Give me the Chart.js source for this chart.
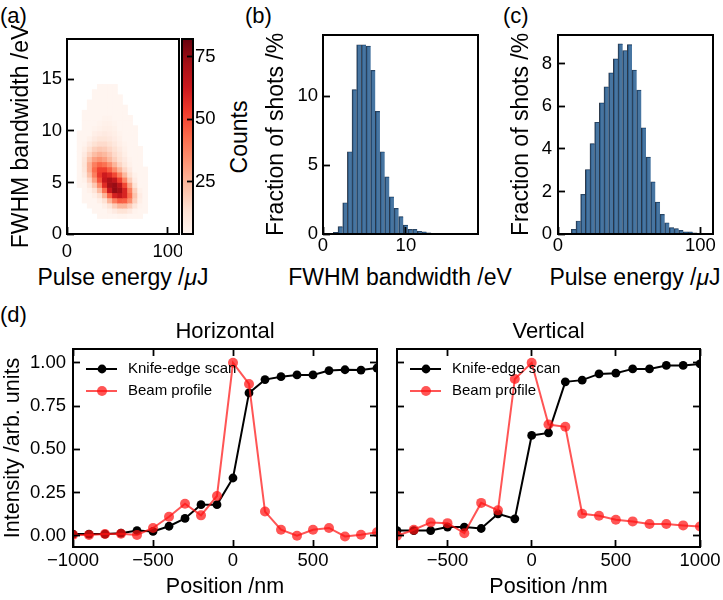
<!DOCTYPE html>
<html>
<head>
<meta charset="utf-8">
<script src="https://cdn.jsdelivr.net/npm/chart.js@4.4.1/dist/chart.umd.min.js"></script>
<style>
  html, body { margin: 0; padding: 0; background: #fff; }
  body { width: 723px; height: 600px; position: relative; overflow: hidden; font-family: "Liberation Sans", Arial, sans-serif; color: #000; }
  .box { position: absolute; }
  .tag { position: absolute; font-size: 22px; line-height: 1; }
  .rot { position: absolute; font-size: 23px; line-height: 1; white-space: nowrap; transform: translate(-50%, -50%) rotate(-90deg); }
  .xt { position: absolute; font-size: 23px; line-height: 1; white-space: nowrap; transform: translate(-50%, -50%); }
</style>
</head>
<body>
<div class="tag" style="left:0;top:5px">(a)</div>
<div class="tag" style="left:245px;top:5px">(b)</div>
<div class="tag" style="left:503px;top:5px">(c)</div>
<div class="tag" style="left:0;top:304px">(d)</div>
<div class="rot" style="left:239px;top:137px">Counts</div>
<div class="xt" style="left:123px;top:277px">Pulse energy /<i>μ</i>J</div>
<div class="xt" style="left:400px;top:277px">FWHM bandwidth /eV</div>
<div class="xt" style="left:635px;top:277px">Pulse energy /<i>μ</i>J</div>

<div class="box" style="left:8px;top:0;width:174px;height:290px"><canvas id="heat"></canvas></div>
<div class="box" style="left:180px;top:0;width:73px;height:290px"><canvas id="cbar"></canvas></div>
<div class="box" style="left:263px;top:0;width:219px;height:290px"><canvas id="histBw"></canvas></div>
<div class="box" style="left:508px;top:0;width:215px;height:290px"><canvas id="histPe"></canvas></div>
<div class="box" style="left:0;top:319px;width:382px;height:281px"><canvas id="horiz"></canvas></div>
<div class="box" style="left:390px;top:319px;width:333px;height:281px"><canvas id="vert"></canvas></div>

<script>
// (a) pulse energy vs bandwidth, counts per 5 uJ x 0.5 eV cell
const heatEnergy = [12.5, 17.5, 22.5, 27.5, 32.5, 37.5, 42.5, 47.5, 52.5, 57.5, 62.5, 67.5, 72.5, 77.5];
const heatBandwidth = [14.25, 13.75, 13.25, 12.75, 12.25, 11.75, 11.25, 10.75, 10.25, 9.75, 9.25, 8.75, 8.25,
  7.75, 7.25, 6.75, 6.25, 5.75, 5.25, 4.75, 4.25, 3.75, 3.25, 2.75, 2.25, 1.75];
const heatCounts = [
  [0, 0, 0, 0, 1, 1, 1, 1, 0, 0, 0, 0, 0, 0],
  [0, 0, 0, 1, 1, 2, 1, 1, 0, 0, 0, 0, 0, 0],
  [0, 0, 0, 1, 2, 2, 2, 1, 1, 0, 0, 0, 0, 0],
  [0, 0, 1, 1, 2, 3, 2, 2, 1, 0, 0, 0, 0, 0],
  [0, 0, 1, 2, 3, 3, 3, 2, 1, 1, 0, 0, 0, 0],
  [0, 1, 1, 2, 3, 4, 4, 3, 2, 1, 0, 0, 0, 0],
  [0, 1, 2, 3, 4, 5, 5, 4, 2, 1, 1, 0, 0, 0],
  [0, 1, 2, 4, 5, 6, 6, 5, 3, 2, 1, 0, 0, 0],
  [0, 1, 3, 5, 6, 7, 7, 6, 4, 2, 1, 1, 0, 0],
  [1, 2, 4, 7, 8, 9, 8, 7, 5, 3, 2, 1, 0, 0],
  [1, 3, 6, 9, 11, 11, 10, 8, 6, 4, 2, 1, 0, 0],
  [2, 5, 9, 13, 15, 15, 13, 10, 7, 5, 3, 1, 0, 0],
  [2, 7, 13, 18, 20, 19, 16, 13, 9, 6, 3, 2, 1, 0],
  [3, 9, 17, 23, 26, 24, 20, 15, 11, 7, 4, 2, 1, 0],
  [3, 11, 22, 30, 33, 30, 24, 18, 13, 9, 5, 2, 1, 0],
  [3, 12, 26, 38, 44, 41, 34, 25, 17, 11, 6, 3, 1, 0],
  [3, 11, 26, 42, 52, 52, 45, 35, 25, 16, 9, 4, 2, 1],
  [2, 9, 22, 38, 54, 62, 58, 50, 38, 24, 13, 6, 2, 1],
  [1, 6, 16, 30, 48, 64, 70, 65, 52, 36, 19, 8, 3, 1],
  [1, 4, 10, 20, 36, 57, 72, 74, 66, 50, 29, 12, 4, 2],
  [0, 2, 6, 12, 23, 41, 63, 75, 72, 59, 38, 18, 6, 2],
  [0, 1, 3, 7, 13, 25, 44, 60, 65, 59, 42, 21, 8, 3],
  [0, 1, 2, 4, 7, 13, 25, 38, 46, 45, 34, 18, 7, 3],
  [0, 0, 1, 2, 4, 7, 12, 19, 25, 25, 19, 11, 5, 2],
  [0, 0, 0, 1, 2, 3, 6, 9, 12, 12, 9, 5, 2, 1],
  [0, 0, 0, 0, 1, 1, 2, 4, 5, 5, 4, 2, 1, 0]
];
const countRange = [4, 82];
const countTicks = [25, 50, 75];
const energyTicks = [0, 100];
const bandwidthTicks = [0, 5, 10, 15];

// (b) bandwidth histogram
const bwBins = [0.97, 1.53, 2.09, 2.66, 3.22, 3.78, 4.34, 4.91, 5.47, 6.03, 6.59, 7.16, 7.72,
  8.28, 8.84, 9.41, 9.97, 10.53, 11.09, 11.66, 12.22, 12.78, 13.34, 13.91, 14.47];
const bwFraction = [0.03, 0.12, 0.53, 2.27, 5.97, 10.48, 13.74, 13.74, 13.64, 11.88, 8.9, 5.97, 4.15,
  2.7, 1.86, 1.26, 0.65, 0.34, 0.34, 0.2, 0.15, 0.08, 0.05, 0.03, 0.02];
const bwTicks = [0, 10];
const bwFracTicks = [0, 5, 10];

// (c) pulse energy histogram
const peBins = [10.99, 14.27, 17.55, 20.83, 24.11, 27.39, 30.67, 33.95, 37.23, 40.51, 43.79, 47.07, 50.35, 53.63,
  56.91, 60.19, 63.47, 66.75, 70.03, 73.31, 76.59, 79.87, 83.15, 86.43, 89.71, 92.99, 96.27, 99.55];
const peFraction = [0.22, 0.61, 1.86, 3.03, 4.25, 5.25, 6.16, 6.91, 7.57, 8.23, 8.93, 8.62, 8.9, 7.7,
  6.76, 4.99, 3.61, 2.45, 1.5, 0.92, 0.53, 0.3, 0.25, 0.17, 0.1, 0.1, 0.05, 0.03];
const peFracTicks = [0, 2, 4, 6, 8];

// (d) knife-edge scans
const hPosition = [-1000, -900, -800, -700, -600, -500, -400, -300, -200, -100, 0, 100, 200, 300, 400, 500, 600, 700, 800, 900];
const hKnife = [0.01, 0.01, 0.01, 0.015, 0.03, 0.025, 0.055, 0.1, 0.18, 0.18, 0.334, 0.826, 0.903, 0.92, 0.93, 0.93, 0.955, 0.96, 0.958, 0.97];
const hBeam = [0.005, 0.005, 0.01, 0.012, 0.005, 0.045, 0.11, 0.185, 0.118, 0.23, 1.0, 0.878, 0.14, 0.035, 0.0, 0.035, 0.045, -0.004, 0.006, 0.02];
const vPosition = [-800, -700, -600, -500, -400, -300, -200, -100, 0, 100, 200, 300, 400, 500, 600, 700, 800, 900, 1000];
const vKnife = [0.03, 0.03, 0.03, 0.05, 0.05, 0.042, 0.127, 0.098, 0.58, 0.595, 0.89, 0.9, 0.936, 0.94, 0.965, 0.965, 0.985, 0.985, 0.994];
const vBeam = [0.0, 0.035, 0.077, 0.073, 0.015, 0.19, 0.147, 0.907, 1.0, 0.643, 0.63, 0.127, 0.116, 0.093, 0.083, 0.068, 0.068, 0.06, 0.054];
const hTicks = [-1000, -500, 0, 500];
const vTicks = [-500, 0, 500, 1000];
const intensityTicks = [0, 0.25, 0.5, 0.75, 1];

const FONT = '"Liberation Sans", Arial, sans-serif';
const BAR_BLUE = 'rgba(31, 87, 140, 0.82)';
const REDS = ['#fff5f0', '#fee0d2', '#fcbba1', '#fc9272', '#fb6a4a', '#ef3b2c', '#cb181d', '#a50f15', '#67000d'];

function hexRgb(h) {
  return [1, 3, 5].map(i => parseInt(h.slice(i, i + 2), 16));
}

function redsAt(t) {
  t = Math.max(0, Math.min(1, t));
  const p = t * (REDS.length - 1);
  const i = Math.min(Math.floor(p), REDS.length - 2);
  const f = p - i;
  const a = hexRgb(REDS[i]), b = hexRgb(REDS[i + 1]);
  const c = a.map((v, k) => Math.round(v + (b[k] - v) * f));
  return `rgb(${c[0]}, ${c[1]}, ${c[2]})`;
}

function countColor(n) {
  if (!n) return 'rgba(0,0,0,0)';
  return redsAt((n - countRange[0]) / (countRange[1] - countRange[0]));
}

const signed = v => (v < 0 ? '\u2212' + Math.abs(v) : String(v));

// axis with inward ticks and a fixed thickness so the plot boxes line up;
// the box itself is drawn by the frame plugin
function axis(o) {
  const vertical = o.pos === 'left' || o.pos === 'right';
  return {
    type: 'linear', position: o.pos, min: o.min, max: o.max, offset: false, beginAtZero: false,
    afterBuildTicks: s => { s.ticks = o.ticks.map(v => ({ value: v })); },
    afterFit: s => {
      if (vertical) s.width = o.size; else s.height = o.size;
      // labels may overhang the plot edge, as in matplotlib
      s.paddingLeft = s.paddingRight = s.paddingTop = s.paddingBottom = 0;
    },
    grid: { offset: false, drawOnChartArea: false, drawTicks: true, tickLength: o.tl || -7, tickWidth: 1.8, tickColor: '#000', z: 1 },
    border: { display: false },
    ticks: {
      display: o.labels !== false, padding: o.pad || 0, color: '#000', autoSkip: false, maxRotation: 0,
      font: { family: FONT, size: 18.5 }, callback: o.fmt || (v => String(v))
    },
    title: { display: !!o.title, text: o.title || '', color: '#000', padding: 0, font: { family: FONT, size: o.titleSize || 23 } }
  };
}

Chart.register({
  id: 'frame',
  afterDatasetsDraw(chart) {
    const { ctx, chartArea: a } = chart;
    ctx.save();
    ctx.strokeStyle = '#000';
    ctx.lineWidth = 2;
    ctx.strokeRect(a.left, a.top, a.right - a.left, a.bottom - a.top);
    ctx.restore();
  }
});

const lineLegend = {
  id: 'lineLegend',
  afterDatasetsDraw(chart) {
    const { ctx, chartArea } = chart;
    ctx.save();
    ctx.font = '15px ' + FONT;
    ctx.textBaseline = 'middle';
    chart.data.datasets.forEach((ds, i) => {
      const x = chartArea.left;
      const y = chartArea.top + 20 + i * 22;
      ctx.strokeStyle = ds.borderColor;
      ctx.lineWidth = ds.borderWidth;
      ctx.beginPath();
      ctx.moveTo(x + 13, y);
      ctx.lineTo(x + 44, y);
      ctx.stroke();
      ctx.fillStyle = ds.pointBackgroundColor;
      ctx.beginPath();
      ctx.arc(x + 29, y, ds.pointRadius, 0, Math.PI * 2);
      ctx.fill();
      ctx.fillStyle = '#000';
      ctx.fillText(ds.label, x + 55, y);
    });
    ctx.restore();
  }
};

const common = {
  responsive: true,
  maintainAspectRatio: false,
  animation: false,
  events: [],
  plugins: { legend: { display: false }, tooltip: { enabled: false } }
};

// (a) heat map as floating bars, one dataset per bandwidth row
new Chart(document.getElementById('heat'), {
  type: 'bar',
  data: {
    datasets: heatBandwidth.map((bw, r) => ({
      data: heatEnergy.map(e => ({ x: e, y: [bw - 0.25, bw + 0.25] })),
      backgroundColor: heatCounts[r].map(countColor),
      grouped: false,
      barPercentage: 1,
      categoryPercentage: 1,
      borderWidth: 0
    }))
  },
  options: {
    ...common,
    layout: { padding: { top: 39, right: 3, left: 0, bottom: 0 } },
    scales: {
      x: axis({ pos: 'bottom', min: 0, max: 111, ticks: energyTicks, size: 56, pad: 13.6 }),
      y: axis({ pos: 'left', min: 0, max: 18.9, ticks: bandwidthTicks, size: 59, pad: 12, title: 'FWHM bandwidth /eV' })
    }
  }
});

// colour bar
new Chart(document.getElementById('cbar'), {
  type: 'bar',
  data: {
    labels: [''],
    datasets: [{
      data: [countRange],
      barPercentage: 1,
      categoryPercentage: 1,
      borderWidth: 0,
      backgroundColor: ctx => {
        const { chart } = ctx;
        if (!chart.chartArea) return REDS[4];
        const y = chart.scales.y;
        const g = chart.ctx.createLinearGradient(0, y.getPixelForValue(countRange[0]), 0, y.getPixelForValue(countRange[1]));
        REDS.forEach((c, i) => g.addColorStop(i / (REDS.length - 1), c));
        return g;
      }
    }]
  },
  options: {
    ...common,
    layout: { padding: { top: 39, left: 2, bottom: 56, right: 0 } },
    scales: {
      x: { display: false },
      y: axis({ pos: 'right', min: countRange[0], max: countRange[1], ticks: countTicks, size: 60, pad: 8, tl: -6 })
    }
  }
});

function histogram(id, bins, values, o) {
  return new Chart(document.getElementById(id), {
    type: 'bar',
    data: {
      datasets: [{
        data: bins.map((b, i) => ({ x: b, y: values[i] })),
        backgroundColor: BAR_BLUE,
        borderColor: 'rgba(10, 25, 45, 0.85)',
        borderWidth: { left: 1, top: 0.5, right: 0, bottom: 0 },
        borderSkipped: false,
        barPercentage: 1,
        categoryPercentage: 1
      }]
    },
    options: {
      ...common,
      layout: { padding: o.padding },
      scales: {
        x: axis(o.x),
        y: axis(o.y)
      }
    }
  });
}

histogram('histBw', bwBins, bwFraction, {
  padding: { top: 35, right: 4, left: 0, bottom: 0 },
  x: { pos: 'bottom', min: 0, max: 18.7, ticks: bwTicks, size: 56, pad: 8 },
  y: { pos: 'left', min: 0, max: 14.45, ticks: bwFracTicks, size: 60, pad: 12, title: 'Fraction of shots /%' }
});

histogram('histPe', peBins, peFraction, {
  padding: { top: 35, right: 10, left: 0, bottom: 0 },
  x: { pos: 'bottom', min: 0, max: 108.9, ticks: energyTicks, size: 56, pad: 8 },
  y: { pos: 'left', min: 0, max: 9.35, ticks: peFracTicks, size: 50, pad: 13, title: 'Fraction of shots /%' }
});

function scanChart(id, title, pos, knife, beam, xr, xTicks, first, rightSize) {
  const yMin = -0.065, yMax = 1.08;
  return new Chart(document.getElementById(id), {
    type: 'line',
    data: {
      datasets: [
        {
          label: 'Knife-edge scan',
          data: pos.map((x, i) => ({ x, y: knife[i] })),
          borderColor: '#000', backgroundColor: '#000', pointBackgroundColor: '#000',
          borderWidth: 2, pointRadius: 4.4, pointBorderWidth: 0, order: 2, clip: 0
        },
        {
          label: 'Beam profile',
          data: pos.map((x, i) => ({ x, y: beam[i] })),
          borderColor: 'rgba(255, 20, 20, 0.72)', backgroundColor: 'rgba(255, 20, 20, 0.72)',
          pointBackgroundColor: 'rgba(255, 20, 20, 0.72)',
          borderWidth: 2, pointRadius: 5, pointBorderWidth: 0, order: 1, clip: 0
        }
      ]
    },
    options: {
      ...common,
      layout: { padding: 0 },
      plugins: {
        ...common.plugins,
        title: {
          display: true, text: title, fullSize: false, color: '#000',
          font: { family: FONT, size: 22, weight: 'normal' }, padding: { top: 0, bottom: 3.6 }
        }
      },
      scales: {
        x: axis({ pos: 'bottom', min: xr[0], max: xr[1], ticks: xTicks, size: 53, pad: 10, title: 'Position /nm', titleSize: 21.5, fmt: signed }),
        y: first
          ? axis({ pos: 'left', min: yMin, max: yMax, ticks: intensityTicks, size: 73, pad: 14, title: 'Intensity /arb. units', titleSize: 21.5, fmt: v => v.toFixed(2) })
          : axis({ pos: 'left', min: yMin, max: yMax, ticks: intensityTicks, size: 7, labels: false }),
        x2: axis({ pos: 'top', min: xr[0], max: xr[1], ticks: xTicks, size: 0, labels: false }),
        y2: axis({ pos: 'right', min: yMin, max: yMax, ticks: intensityTicks, size: rightSize, labels: false })
      }
    },
    plugins: [lineLegend]
  });
}

scanChart('horiz', 'Horizontal', hPosition, hKnife, hBeam, [-1000, 900], hTicks, true, 4);
scanChart('vert', 'Vertical', vPosition, vKnife, vBeam, [-800, 1000], vTicks, false, 23);
</script>
</body>
</html>
